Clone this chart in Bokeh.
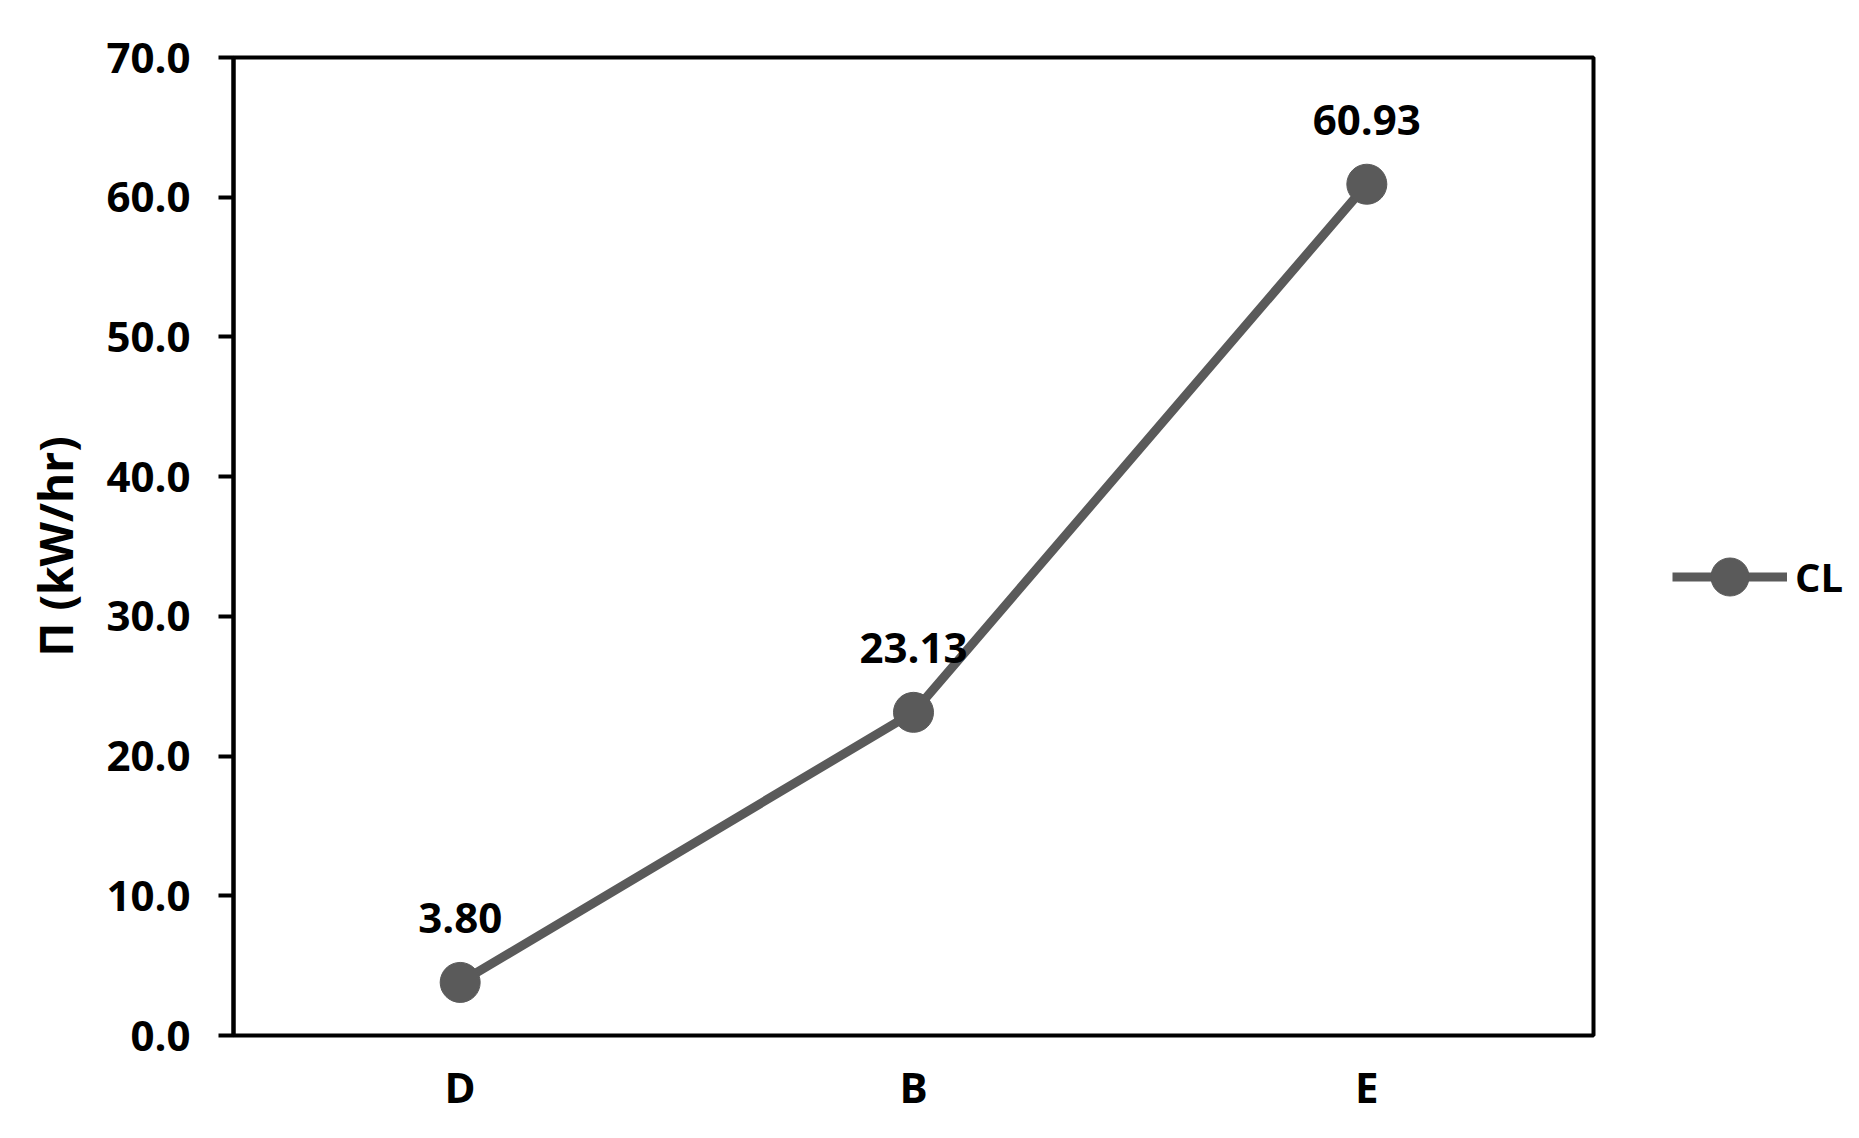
from bokeh.plotting import figure
from bokeh.layouts import row
from bokeh.models import (FactorRange, Range1d, FixedTicker, PrintfTickFormatter,
                          ColumnDataSource, LabelSet, Legend, LegendItem)
from bokeh.core.properties import value
from bokeh.embed import file_html
from bokeh.resources import INLINE

# ---- data ----
categories = ["D", "B", "E"]
values = [3.80, 23.13, 60.93]
value_labels = ["3.80", "23.13", "60.93"]
y_ticks = [0, 10, 20, 30, 40, 50, 60, 70]
series_name = "CL"
y_title = "Π (kW/hr)"

FONT = "Open Sans"
GREY = "#5a5a5a"
H = 1130

src = ColumnDataSource(dict(cat=categories, val=values, lab=value_labels))

p = figure(width=1596, height=H, x_range=FactorRange(*categories),
           y_range=Range1d(0, 70), output_backend="svg", toolbar_location=None,
           min_border_left=233, min_border_top=57, min_border_bottom=95,
           min_border_right=3)

p.background_fill_color = "white"
p.border_fill_color = "white"
p.outline_line_color = "black"
p.outline_line_width = 4
p.xgrid.visible = False
p.ygrid.visible = False

ln = p.line("cat", "val", source=src, line_color=GREY, line_width=9)
sc = p.scatter("cat", "val", source=src, size=40, fill_color=GREY, line_color=GREY)

labels = LabelSet(x="cat", y="val", text="lab", source=src, y_offset=64,
                  text_align="center", text_baseline="middle",
                  text_font=value(FONT), text_font_size=value("42px"),
                  text_font_style="bold", text_color="black")
p.add_layout(labels)

# y axis
ya = p.yaxis[0]
ya.ticker = FixedTicker(ticks=y_ticks)
ya.formatter = PrintfTickFormatter(format="%.1f")
ya.axis_line_color = "black"
ya.axis_line_width = 4
ya.major_tick_line_color = "black"
ya.major_tick_line_width = 4
ya.major_tick_out = 15
ya.major_tick_in = 0
ya.minor_tick_line_color = None
ya.major_label_standoff = 28
ya.major_label_text_font = FONT
ya.major_label_text_font_size = "42px"
ya.major_label_text_font_style = "bold"
ya.major_label_text_color = "black"
ya.axis_label = y_title
ya.axis_label_text_font = FONT
ya.axis_label_text_font_size = "46px"
ya.axis_label_text_font_style = "bold"
ya.axis_label_text_color = "black"
ya.axis_label_standoff = 17

# x axis
xa = p.xaxis[0]
xa.axis_line_color = None
xa.major_tick_line_color = None
xa.minor_tick_line_color = None
xa.major_label_standoff = 16
xa.major_label_text_font = FONT
xa.major_label_text_font_size = "42px"
xa.major_label_text_font_style = "bold"
xa.major_label_text_color = "black"

# ---- legend panel to the right of the plot ----
pl = figure(width=259, height=H, x_range=Range1d(0, 1), y_range=Range1d(0, 1),
            output_backend="svg", toolbar_location=None,
            x_axis_type=None, y_axis_type=None,
            min_border_left=0, min_border_right=0, min_border_top=0,
            min_border_bottom=0)
pl.outline_line_color = None
pl.xgrid.visible = False
pl.ygrid.visible = False
nan = float("nan")
ln_key = pl.line([nan], [nan], line_color=GREY, line_width=9)
sc_key = pl.scatter([nan], [nan], size=40, fill_color=GREY, line_color=GREY)

legend = Legend(items=[LegendItem(label=series_name, renderers=[ln_key, sc_key])],
                location=(76, 411), border_line_color=None,
                background_fill_alpha=0, padding=0, margin=0,
                glyph_width=115, glyph_height=95, label_standoff=8,
                label_text_font=FONT, label_text_font_size="40px",
                label_text_font_style="bold", label_text_color="black")
pl.add_layout(legend)

layout = row(p, pl)
open("out.html", "w").write(file_html(layout, INLINE))
